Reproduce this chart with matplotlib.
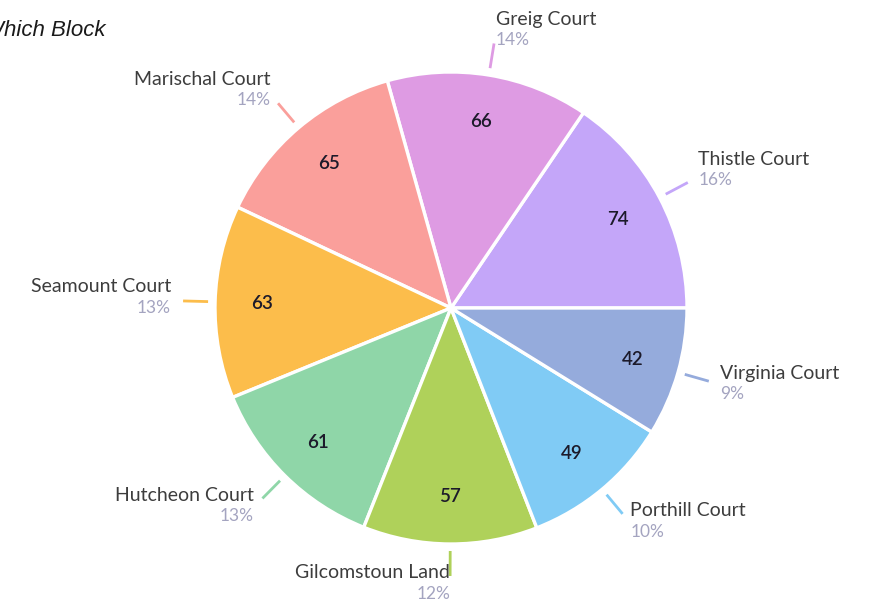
import numpy as np
import matplotlib
matplotlib.use("Agg")
import matplotlib.pyplot as plt

# ---- data ----
categories = ["Thistle Court", "Greig Court", "Marischal Court", "Seamount Court",
              "Hutcheon Court", "Gilcomstoun Land", "Porthill Court", "Virginia Court"]
values = [74, 66, 65, 63, 61, 57, 49, 42]
colors = ["#c4a6f9", "#de9be3", "#fa9f9b", "#fcbd4b",
          "#8fd6a8", "#afd15a", "#80cbf5", "#95abdc"]
title = "Which Block"

W, H = 872, 606
fig = plt.figure(figsize=(W / 100, H / 100), dpi=100)
ax = fig.add_axes([0, 0, 1, 1])

cx, cy, R = 451, H - 308, 236
total = sum(values)

wedges, _, autotexts = ax.pie(
    values, colors=colors, startangle=0, counterclock=True,
    center=(cx, cy), radius=R, autopct=lambda p: f"{round(p * total / 100):d}",
    pctdistance=0.8, wedgeprops=dict(edgecolor="white", linewidth=2.4),
    textprops=dict(fontsize=13.5, color="#1c1a2a", family="Lato", fontweight="semibold"))
ax.set_xlim(0, W)
ax.set_ylim(0, H)
ax.set_aspect("equal")
ax.axis("off")

# leader lines and labels
for w, name, v, col in zip(wedges, categories, values, colors):
    ang = np.deg2rad((w.theta1 + w.theta2) / 2)
    c, s = np.cos(ang), np.sin(ang)
    r1, r2 = R + 7, R + 32
    ax.plot([cx + r1 * c, cx + r2 * c], [cy + r1 * s, cy + r2 * s],
            color=col, lw=2, solid_capstyle="butt")
    ex, ey = cx + r2 * c, cy + r2 * s
    tx = ex + 12 * c
    ha = "left" if c > 0.05 else "right"
    off = 10.5 * np.clip(2 * s, -1, 1) + 3
    yc = ey + off
    ax.text(tx, yc + 10.5, name, ha=ha, va="center", fontsize=14,
            color="#3d3d3d", family="Lato")
    ax.text(tx, yc - 10.5, f"{v / total * 100:.0f}%", ha=ha, va="center",
            fontsize=12.5, color="#a4a4c0", family="Lato")

# title is partly cut off at the left edge, as in the reference
fig.text(105 / W, 1 - 31 / H, title, ha="right", va="center", fontsize=16,
         style="italic", family="Liberation Sans", color="#1a1a1a")

fig.savefig("out.png", dpi=100, facecolor="white")
